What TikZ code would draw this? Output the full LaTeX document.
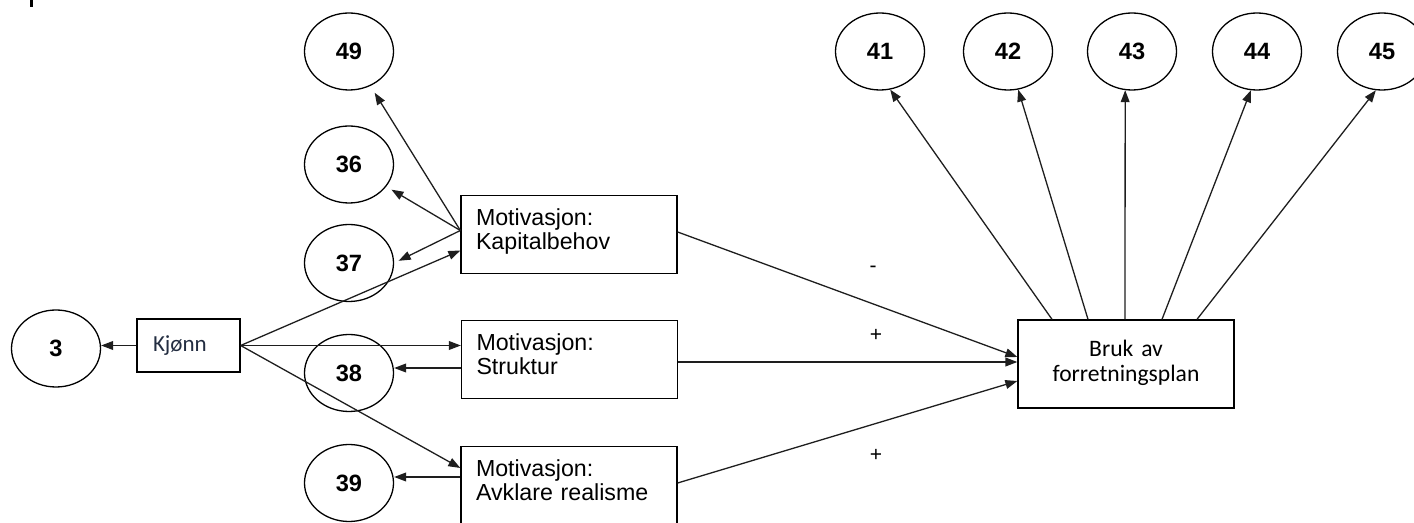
\documentclass[tikz,border=0pt]{standalone}
\usepackage{fontspec}
\setmainfont{Liberation Sans}
\newfontfamily\calibri{Carlito}
\usetikzlibrary{shapes.geometric,arrows.meta}
\definecolor{linegray}{RGB}{30,30,30}
\definecolor{kjtext}{RGB}{35,45,65}
\newcommand\padlow[1]{\par\vspace*{#1}}

\begin{document}
\begin{tikzpicture}[x=0.5pt, y=-0.5pt, >={Triangle[length=6pt,width=4.4pt]},
    var/.style={ellipse, draw, line width=0.65pt, minimum width=44.5pt, minimum height=38.5pt,
        inner sep=0pt, font=\fontsize{11.8}{12}\selectfont\bfseries},
    motiv/.style={rectangle, draw, line width=0.65pt, minimum width=108pt, minimum height=39pt,
        text width=93pt, inner xsep=7.5pt, align=left, font=\fontsize{11.6}{12}\selectfont},
    conn/.style={->, line width=0.65pt, color=linegray},
    sign/.style={font=\fontsize{10.5}{12}\selectfont}]
    \useasboundingbox (0,0) rectangle (1414,523);
    \draw[line width=1.5pt] (31,0) -- (31,7);

    % Kjønn og 3
    \node[var] (c3) at (56,348.5) {3};
    \node[draw, line width=0.65pt, minimum width=51.5pt, minimum height=26.5pt, text width=35.5pt,
        inner xsep=8pt, align=left, font=\calibri\fontsize{11.5}{12}\selectfont, text=kjtext]
        (kj) at (188.5,345.5) {Kjønn};

    % Venstre variabler
    \foreach \n/\y in {49/51.5, 36/164.5, 37/263, 38/373, 39/483}
        \node[var] (c\n) at (349,\y) {\n};

    % Motivasjon
    \node[motiv, execute at end node={\padlow{2.5pt}}] (kap) at (569,234.5) {Motivasjon:\\Kapitalbehov};
    \node[motiv, execute at end node={\padlow{5pt}}] (struk) at (569.5,359.5) {Motivasjon:\\Struktur};
    \node[motiv, execute at end node={\padlow{5pt}}] (avk) at (569,485.5) {Motivasjon:\\Avklare realisme};

    % Bruk av forretningsplan
    \node[draw, line width=0.65pt, minimum width=108pt, minimum height=44pt, text width=100pt,
        inner xsep=4pt, align=center, font=\calibri\fontsize{11.8}{12.5}\selectfont,
        execute at end node={\padlow{1.5pt}}]
        (bruk) at (1126,364) {Bruk av\\forretningsplan};

    % Toppvariabler
    \foreach \n/\x in {41/880, 42/1008, 43/1132, 44/1257, 45/1382}
        \node[var] (c\n) at (\x,51.5) {\n};

    % Fortegn
    \node[sign] (minus) at (873,269) {-};
    \node[sign] (plus1) at (876,335) {+};
    \node[sign] (plus2) at (876,455) {+};

    % Piler fra Kjønn
    \draw[conn] (kj.west) -- (kj.west -| c3.east);
    \draw[conn] (kj.east) -- ([yshift=-8pt]kap.west);
    \draw[conn] (kj.east) -- (kj.east -| struk.west);
    \draw[conn] (kj.east) -- ([yshift=8.75pt]avk.west);

    % Piler fra Motivasjon
    \coordinate (kapout) at ([yshift=2pt]kap.west);
    \draw[conn, shorten >=4pt] (kapout) -- (c49);
    \draw[conn, shorten >=3pt] (kapout) -- (c36);
    \draw[conn, shorten >=2.5pt] (kapout) -- (c37.east);
    \draw[conn] ([yshift=-4.25pt]struk.west) coordinate (s38) -- (s38 -| c38.east);
    \draw[conn] ([yshift=4.25pt]avk.west) coordinate (a39) -- (a39 -| c39.east);

    % Til Bruk
    \draw[conn] ([yshift=1.25pt]kap.east) -- ([yshift=3.5pt]bruk.west);
    \draw[conn] ([yshift=-1.25pt]struk.east) coordinate (s2) -- (s2 -| bruk.west);
    \draw[conn] ([yshift=1.25pt]avk.east) -- ([yshift=-8.5pt]bruk.west);

    % Fra Bruk til 41-45
    \foreach \n/\dx/\a in {41/-37/-75, 42/-19/-75, 43/-0.5/-100, 44/18/-99, 45/35.5/-99}
        \draw[conn] ([xshift=\dx pt]bruk.north) -- (c\n.\a);
\end{tikzpicture}
\end{document}
